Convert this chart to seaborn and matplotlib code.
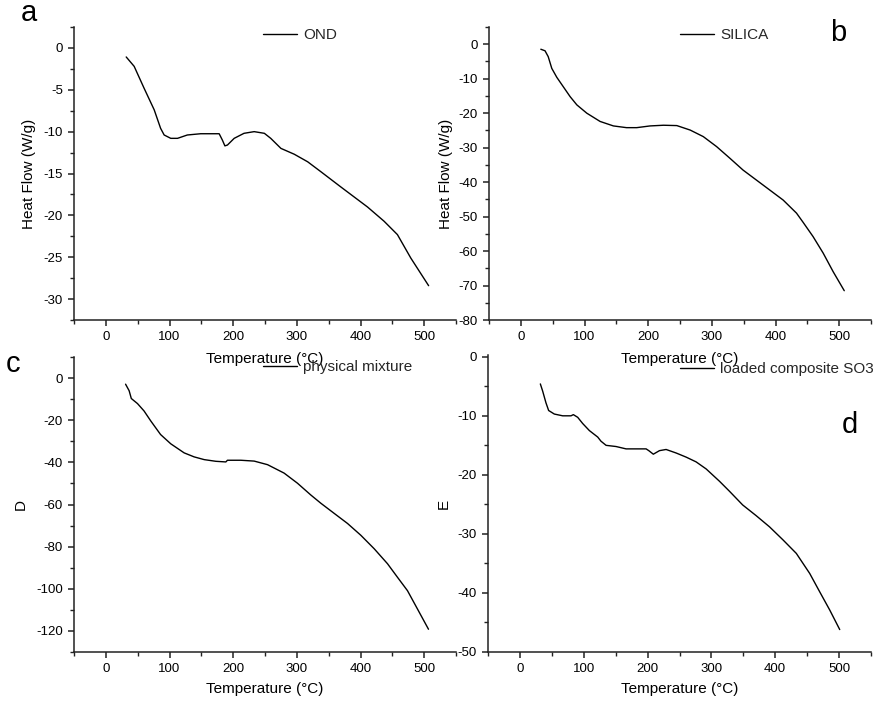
import numpy as np
import pandas as pd
import matplotlib
matplotlib.use("Agg")
import matplotlib.pyplot as plt
from matplotlib.ticker import MultipleLocator
import seaborn as sns

# ---------------- data ----------------
ond_T = [32, 44.5, 60, 76, 86, 91.6, 102, 112.6, 128, 149, 178, 183, 187, 191,
         201.6, 217, 233, 249, 259, 275, 296, 317, 338, 369, 390, 411, 437,
         458, 479, 507]
ond_v = [-1.08, -2.2, -4.8, -7.4, -9.6, -10.4, -10.8, -10.8, -10.4, -10.25,
         -10.25, -11.0, -11.7, -11.6, -10.8, -10.2, -10.0, -10.2, -10.8, -12.0,
         -12.7, -13.6, -14.8, -16.6, -17.8, -19.0, -20.7, -22.3, -25.1, -28.4]

silica_T = [31.4, 38, 43, 48.6, 56.5, 77.4, 88, 103.6, 124.5, 145.4, 166, 182,
            203, 224, 245, 266, 286.6, 307.5, 328.5, 349, 370, 391, 412, 433,
            443.5, 459, 474.9, 490.6, 508]
silica_v = [-1.45, -1.9, -3.6, -7.0, -9.6, -15.2, -17.6, -20.0, -22.4, -23.7,
            -24.2, -24.2, -23.7, -23.5, -23.6, -24.9, -26.8, -29.7, -33.1,
            -36.5, -39.4, -42.3, -45.2, -49.0, -51.7, -55.8, -60.6, -66.0, -71.5]

mix_T = [31, 36.6, 40, 49.7, 60, 70.7, 86, 102, 123, 138.7, 154.5, 172.8,
         188.5, 191, 212, 233, 254, 280, 301, 322, 337.7, 358.6, 379.6, 400.5,
         421.5, 442.4, 458, 473.8, 489.5, 506.8]
mix_v = [-2.9, -6.0, -9.7, -12.1, -15.6, -20.4, -26.8, -31.2, -35.5, -37.4,
         -38.7, -39.5, -39.8, -39.0, -39.0, -39.4, -41.1, -45.1, -49.9, -55.5,
         -59.4, -64.2, -69.0, -74.6, -81.0, -88.1, -94.5, -100.9, -109.6, -119.2]

so3_T = [32, 35.6, 40.8, 45, 53.9, 67, 80, 83.7, 90.5, 98.3, 108.8, 121.9, 127,
         135, 150.6, 166.3, 197.7, 201.9, 209, 218.6, 229, 244.8, 260.5, 276,
         291.8, 312.8, 328.5, 349, 370, 391, 412, 433, 454, 469.6, 485.4, 501]
so3_v = [-4.6, -5.8, -7.8, -9.1, -9.7, -10.0, -10.0, -9.8, -10.25, -11.3, -12.5,
         -13.6, -14.3, -15.0, -15.2, -15.6, -15.6, -15.9, -16.5, -15.9, -15.7,
         -16.3, -17.0, -17.8, -19.0, -21.1, -22.8, -25.1, -26.9, -28.8, -31.0,
         -33.3, -36.7, -39.8, -42.9, -46.2]

series_names = ["OND", "SILICA", "physical mixture", "loaded composite SO3"]
y_labels = ["Heat Flow (W/g)", "Heat Flow (W/g)", "D", "E"]
x_label = "Temperature (\u00b0C)"
panel_letters = ["a", "b", "c", "d"]

# ---------------- style ----------------
sns.set_theme(style="ticks")
plt.rcParams["font.family"] = ["Liberation Sans", "DejaVu Sans"]
plt.rcParams["axes.unicode_minus"] = False

W, H = 886, 701
fig = plt.figure(figsize=(W / 100, H / 100), dpi=100)
fig.patch.set_facecolor("white")


def box(l, r, t, b):
    return [l / W, 1 - b / H, (r - l) / W, (b - t) / H]


axes_boxes = [box(74, 456, 27, 320), box(489, 871, 27, 320),
              box(74, 456, 357, 652), box(488, 871, 355, 652)]
ylims = [(-32.5, 2.5), (-80, 5), (-130, 10), (-50, 0.3)]
ymajor = [5, 10, 20, 10]
yminor = [2.5, 5, 10, 5]
ylabel_x = [-0.10, -0.094, -0.12, -0.097]
xlabel_y = [-0.109, -0.109, -0.102, -0.102]
legend_pos = [(263, 35), (680, 35), (263, 367), (680, 369)]
letter_pos = [(21, 21), (830, 41), (6, 372), (842, 433)]

data = [(ond_T, ond_v), (silica_T, silica_v), (mix_T, mix_v), (so3_T, so3_v)]

for i, (T, v) in enumerate(data):
    ax = fig.add_axes(axes_boxes[i])
    ax.patch.set_alpha(0)
    df = pd.DataFrame({"T": T, "v": v})
    sns.lineplot(data=df, x="T", y="v", ax=ax, color="black", linewidth=1.0,
                 label=series_names[i], sort=False)
    ax.set_xlim(-50, 550)
    ax.set_ylim(*ylims[i])
    ax.xaxis.set_major_locator(MultipleLocator(100))
    ax.xaxis.set_minor_locator(MultipleLocator(50))
    ax.yaxis.set_major_locator(MultipleLocator(ymajor[i]))
    ax.yaxis.set_minor_locator(MultipleLocator(yminor[i]))
    for s in ["top", "right"]:
        ax.spines[s].set_visible(False)
    for s in ["left", "bottom"]:
        ax.spines[s].set_linewidth(1.1)
        ax.spines[s].set_color("#222222")
    ax.tick_params(which="major", direction="out", length=4, width=1.1,
                   labelsize=9.5, colors="#222222", labelcolor="black", pad=4)
    ax.tick_params(which="minor", direction="out", length=2.8, width=1.0,
                   colors="#222222")
    ax.set_xlabel(x_label, fontsize=11, color="black")
    ax.set_ylabel(y_labels[i], fontsize=11, color="black")
    ax.xaxis.set_label_coords(0.5, xlabel_y[i])
    ax.yaxis.set_label_coords(ylabel_x[i], 0.5)
    lx, ly = legend_pos[i]
    ax.legend(loc="center left", bbox_to_anchor=(lx / W, 1 - ly / H),
              bbox_transform=fig.transFigure, frameon=False, fontsize=11,
              handlelength=2.25, handletextpad=0.4, borderpad=0,
              borderaxespad=0)
    px, py = letter_pos[i]
    fig.text(px / W, 1 - py / H, panel_letters[i], fontsize=21,
             va="baseline", ha="left", color="black")

fig.savefig("out.png", dpi=100, facecolor="white")
